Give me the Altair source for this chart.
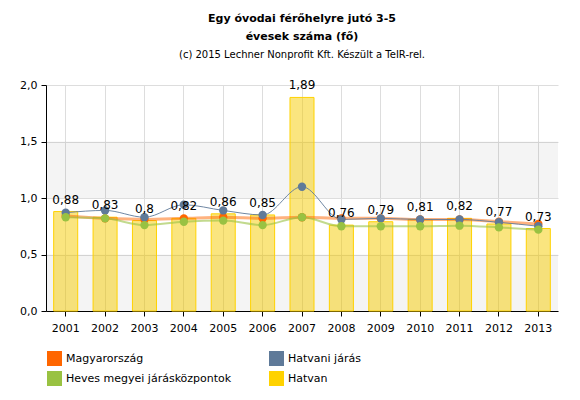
import altair as alt
import pandas as pd

years = [str(y) for y in range(2001, 2014)]
hatvan = [0.88, 0.83, 0.8, 0.82, 0.86, 0.85, 1.89, 0.76, 0.79, 0.81, 0.82, 0.77, 0.73]
magyarorszag = [0.84, 0.82, 0.81, 0.82, 0.83, 0.82, 0.83, 0.82, 0.82, 0.81, 0.81, 0.79, 0.77]
hatvani_jaras = [0.87, 0.89, 0.83, 0.94, 0.89, 0.85, 1.10, 0.81, 0.82, 0.81, 0.81, 0.785, 0.75]
heves = [0.83, 0.82, 0.76, 0.79, 0.80, 0.76, 0.83, 0.75, 0.75, 0.75, 0.755, 0.74, 0.72]

# legend order (laid out column by column)
series_names = ["Magyarország", "Heves megyei járásközpontok", "Hatvani járás", "Hatvan"]
series_colors = ["#FF6600", "#99C242", "#5F7A99", "#FFD200"]

band_lo = [0.0, 1.0]
band_hi = [0.5, 1.5]

FONT = "DejaVu Sans"
W, H = 512, 226

df = pd.DataFrame({
    "year": years,
    "hatvan": hatvan,
    "label": [str(v).replace(".", ",") for v in hatvan],
    "mo": magyarorszag,
    "hj": hatvani_jaras,
    "hv": heves,
})
bands = pd.DataFrame({"lo": band_lo, "hi": band_hi})
leg = pd.DataFrame({"series": series_names})

xenc = alt.X("year:O", title=None,
             scale=alt.Scale(paddingInner=0.39, paddingOuter=0.195),
             axis=alt.Axis(labelAngle=0, grid=True, gridColor="#dddddd", domainColor="#000000",
                           tickColor="#000000", tickSize=5, labelPadding=6, labelFontSize=11,
                           labelColor="#000000", labelFont=FONT))
yscale = alt.Scale(domain=[0, 2])
yaxis = alt.Axis(values=[0, 0.5, 1, 1.5, 2], labelExpr="replace(format(datum.value,'.1f'),'.',',')",
                 gridColor="#dddddd", domainColor="#000000", tickColor="#000000", tickSize=5,
                 labelFontSize=11, labelColor="#000000", labelFont=FONT, labelPadding=4)

bg = alt.Chart(bands).mark_rect(color="#000000", opacity=0.045).encode(
    x=alt.value(0), x2=alt.value(W),
    y=alt.Y("lo:Q", scale=yscale, axis=yaxis, title=None), y2="hi:Q")

bars = alt.Chart(df).mark_bar(fill="#F5CC00", fillOpacity=0.5, stroke="#FFD200", strokeWidth=1).encode(
    x=xenc, y=alt.Y("hatvan:Q", scale=yscale, axis=yaxis, title=None))

def line_layer(field, color, sw, op):
    ln = alt.Chart(df).mark_line(color=color, strokeWidth=sw, opacity=op, interpolate="monotone").encode(
        x=xenc, y=alt.Y(f"{field}:Q", scale=yscale, axis=yaxis, title=None))
    pt = alt.Chart(df).mark_circle(color=color, size=70, opacity=1).encode(
        x=xenc, y=alt.Y(f"{field}:Q", scale=yscale, axis=yaxis, title=None))
    return ln, pt

mo_l, mo_p = line_layer("mo", "#FF6600", 3, 0.5)
hv_l, hv_p = line_layer("hv", "#99C242", 2, 0.6)
hj_l, hj_p = line_layer("hj", "#5F7A99", 1, 0.9)

labels = alt.Chart(df).mark_text(baseline="bottom", dy=-5, fontSize=12, font=FONT, color="#000000").encode(
    x=xenc, y=alt.Y("hatvan:Q", scale=yscale, axis=yaxis, title=None), text="label:N")

legend_layer = alt.Chart(leg).mark_square(opacity=0, filled=True).encode(
    color=alt.Color("series:N",
                    scale=alt.Scale(domain=series_names, range=series_colors),
                    legend=alt.Legend(orient="none", legendX=1, legendY=266, columns=2,
                                      columnPadding=37, rowPadding=5, symbolType="square",
                                      symbolSize=225, symbolOpacity=1, symbolStrokeWidth=0,
                                      labelFont=FONT, labelFontSize=11, labelOffset=4,
                                      labelColor="#000000", title=None, labelLimit=300)))

chart = alt.layer(bg, bars, mo_l, hv_l, hj_l, mo_p, hj_p, hv_p, labels, legend_layer).properties(
    width=W, height=H,
    title=alt.TitleParams(
        text=["Egy óvodai férőhelyre jutó 3-5", "évesek száma (fő)"],
        subtitle="(c) 2015 Lechner Nonprofit Kft. Készült a TeIR-rel.",
        font=FONT, fontSize=11, fontWeight="bold", color="#000000", lineHeight=18,
        subtitleFont=FONT, subtitleFontSize=10, subtitleColor="#000000", subtitlePadding=8,
        anchor="middle", offset=19),
    autosize=alt.AutoSizeParams(type="none"),
    padding={"left": 38, "top": 77, "right": 14, "bottom": 81},
).configure_view(stroke=None)

chart.save("out.html", embed_options={"renderer": "svg", "actions": False})
